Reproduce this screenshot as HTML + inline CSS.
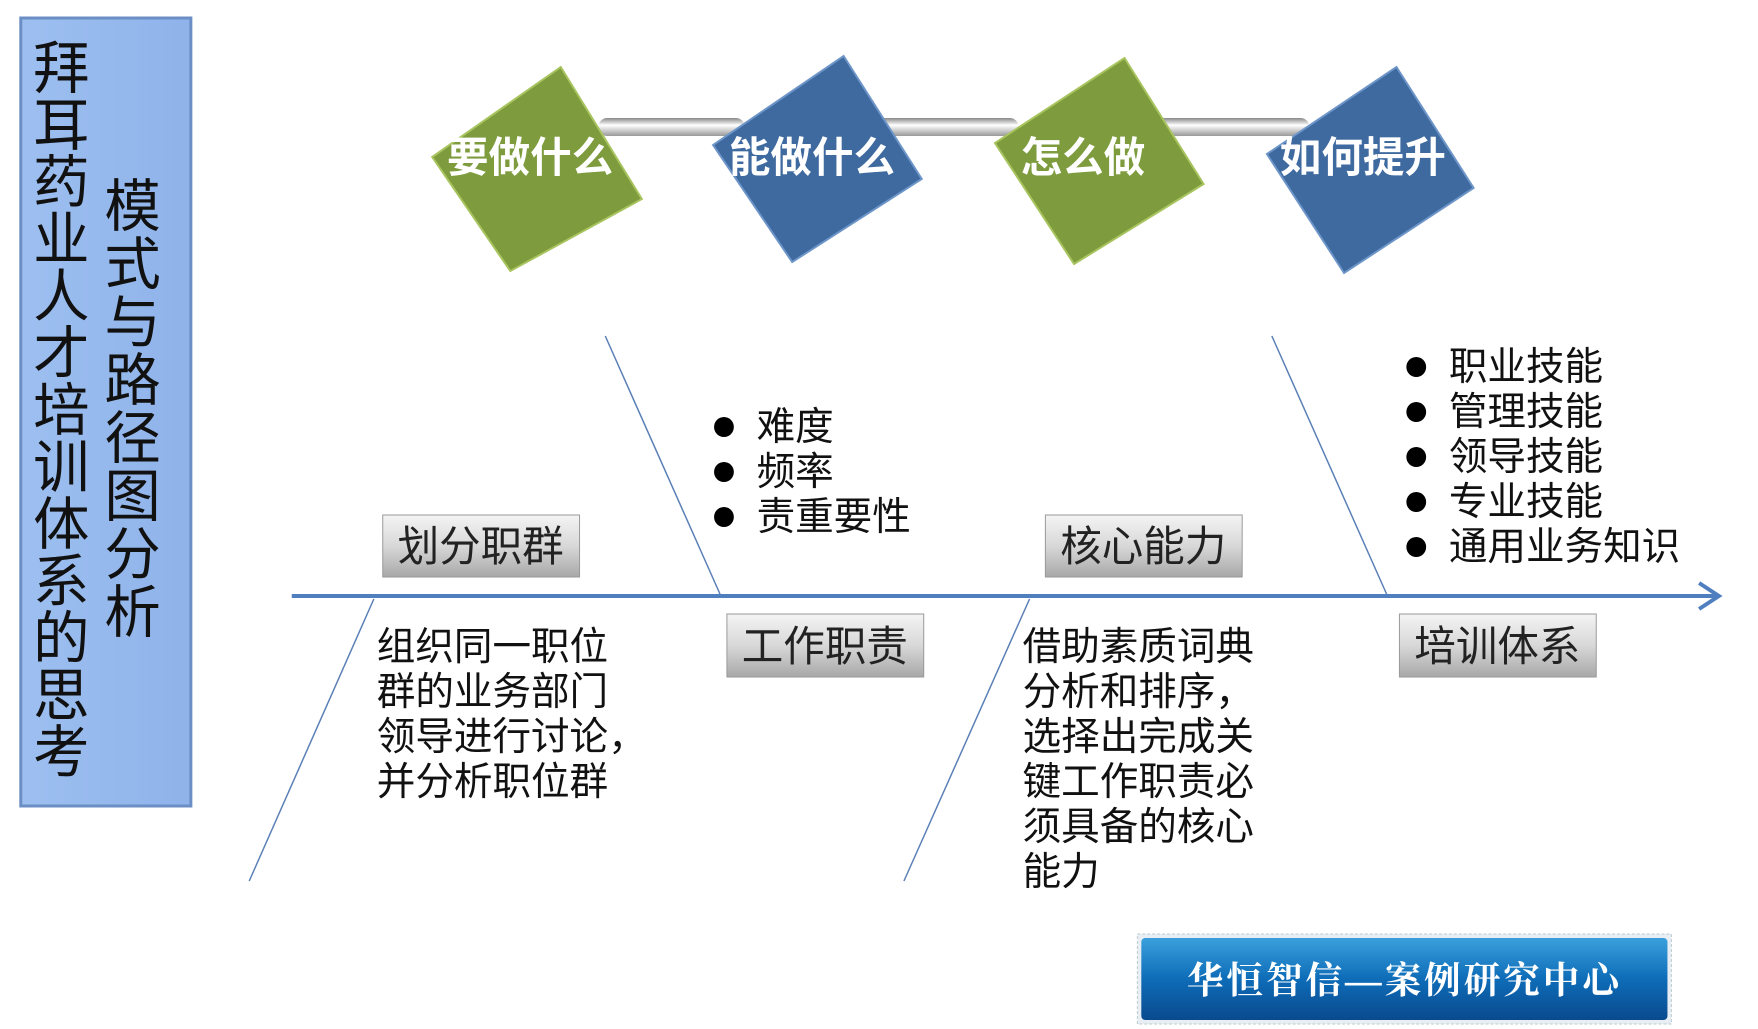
<!DOCTYPE html>
<html><head><meta charset="utf-8"><style>
html,body{margin:0;padding:0;background:#fff;}
svg{display:block;}
text{font-family:"Liberation Sans","Noto Sans CJK SC",sans-serif;}
</style></head><body>
<svg width="1758" height="1029" viewBox="0 0 1758 1029" xmlns="http://www.w3.org/2000/svg">
<defs>
<linearGradient id="tube" x1="0" y1="0" x2="0" y2="1"><stop offset="0" stop-color="#888"/><stop offset="0.4" stop-color="#fff"/><stop offset="1" stop-color="#999"/></linearGradient>
<linearGradient id="lab" x1="0" y1="0" x2="0" y2="1"><stop offset="0" stop-color="#f4f4f4"/><stop offset="0.5" stop-color="#d8d8d8"/><stop offset="1" stop-color="#a8a8a8"/></linearGradient>
<linearGradient id="badge" x1="0" y1="0" x2="0" y2="1"><stop offset="0" stop-color="#3aa0dc"/><stop offset="0.5" stop-color="#0e6cb8"/><stop offset="1" stop-color="#0a4a8e"/></linearGradient>
<linearGradient id="left" x1="0" y1="0" x2="1" y2="0"><stop offset="0" stop-color="#9dbff0"/><stop offset="1" stop-color="#8fb3ea"/></linearGradient>
</defs>
<g transform="scale(0.989,1)">
<rect x="21" y="18" width="172" height="788" fill="url(#left)" stroke="#6b8fc4" stroke-width="3"/>
<g font-size="57" fill="#111">
<text x="62" y="0" text-anchor="middle">
<tspan x="62" y="88">拜</tspan><tspan x="62" y="145">耳</tspan><tspan x="62" y="202">药</tspan><tspan x="62" y="259">业</tspan><tspan x="62" y="316">人</tspan><tspan x="62" y="373">才</tspan><tspan x="62" y="430">培</tspan><tspan x="62" y="487">训</tspan><tspan x="62" y="544">体</tspan><tspan x="62" y="601">系</tspan><tspan x="62" y="658">的</tspan><tspan x="62" y="715">思</tspan><tspan x="62" y="772">考</tspan>
</text>
<text x="134" y="0" text-anchor="middle">
<tspan x="134" y="226">模</tspan><tspan x="134" y="284">式</tspan><tspan x="134" y="342">与</tspan><tspan x="134" y="400">路</tspan><tspan x="134" y="458">径</tspan><tspan x="134" y="516">图</tspan><tspan x="134" y="574">分</tspan><tspan x="134" y="632">析</tspan>
</text>
</g>
<rect x="605" y="118" width="148" height="18" rx="9" fill="url(#tube)"/>
<rect x="880" y="118" width="150" height="18" rx="9" fill="url(#tube)"/>
<rect x="1158" y="118" width="166" height="18" rx="9" fill="url(#tube)"/>
<g stroke-width="2">
<polygon points="567,67 649,199 516,271 437,157" fill="#7e9c3e" stroke="#a8c45e"/>
<polygon points="853,56 932,179 801,262 721,145" fill="#3f6aa0" stroke="#6d95c8"/>
<polygon points="1137,58 1217,184 1086,264 1006,143" fill="#7e9c3e" stroke="#a8c45e"/>
<polygon points="1412,67 1490,188 1359,273 1281,154" fill="#3f6aa0" stroke="#6d95c8"/>
</g>
<g font-size="42" font-weight="bold" fill="#fff" text-anchor="middle">
<text x="536" y="172">要做什么</text>
<text x="821" y="172">能做什么</text>
<text x="1095" y="172">怎么做</text>
<text x="1378" y="172">如何提升</text>
</g>
<line x1="295" y1="596" x2="1735" y2="596" stroke="#4f7fbf" stroke-width="4"/>
<polyline points="1718,583 1738,596 1718,609" fill="none" stroke="#4f7fbf" stroke-width="4"/>
<g stroke="#5a7fb5" stroke-width="1.5">
<line x1="612" y1="336" x2="728" y2="594"/>
<line x1="1286" y1="336" x2="1402" y2="594"/>
<line x1="378" y1="599" x2="252" y2="881"/>
<line x1="1041" y1="599" x2="914" y2="881"/>
</g>
<g font-size="42" fill="#222" text-anchor="middle">
<rect x="387" y="515" width="199" height="62" fill="url(#lab)" stroke="#999"/>
<text x="486" y="561">划分职群</text>
<rect x="735" y="614" width="199" height="63" fill="url(#lab)" stroke="#999"/>
<text x="834" y="661">工作职责</text>
<rect x="1057" y="515" width="199" height="62" fill="url(#lab)" stroke="#999"/>
<text x="1156" y="561">核心能力</text>
<rect x="1415" y="614" width="199" height="63" fill="url(#lab)" stroke="#999"/>
<text x="1514" y="661">培训体系</text>
</g>
<g fill="#000">
<circle cx="732" cy="427" r="10"/><circle cx="732" cy="472" r="10"/><circle cx="732" cy="517" r="10"/>
<circle cx="1432" cy="367" r="10"/><circle cx="1432" cy="412" r="10"/><circle cx="1432" cy="457" r="10"/><circle cx="1432" cy="502" r="10"/><circle cx="1432" cy="547" r="10"/>
</g>
<g font-size="39" fill="#111">
<text x="765" y="440">难度</text>
<text x="765" y="485">频率</text>
<text x="765" y="530">责重要性</text>
<text x="1465" y="380">职业技能</text>
<text x="1465" y="425">管理技能</text>
<text x="1465" y="470">领导技能</text>
<text x="1465" y="515">专业技能</text>
<text x="1465" y="560">通用业务知识</text>
<text x="381" y="660">组织同一职位</text>
<text x="381" y="705">群的业务部门</text>
<text x="381" y="750">领导进行讨论，</text>
<text x="381" y="795">并分析职位群</text>
<text x="1034" y="660">借助素质词典</text>
<text x="1034" y="705">分析和排序，</text>
<text x="1034" y="750">选择出完成关</text>
<text x="1034" y="795">键工作职责必</text>
<text x="1034" y="840">须具备的核心</text>
<text x="1034" y="885">能力</text>
</g>
<rect x="1150" y="934" width="540" height="90" fill="#e8eef4" stroke="#bcc" stroke-dasharray="3,2"/>
<rect x="1154" y="938" width="532" height="82" rx="4" fill="url(#badge)"/>
<text x="1420" y="993" font-size="37" font-weight="bold" fill="#fff" text-anchor="middle" letter-spacing="3" style="font-family:'Liberation Serif','Noto Serif CJK SC',serif">华恒智信—案例研究中心</text>
</g>
</svg>
</body></html>
